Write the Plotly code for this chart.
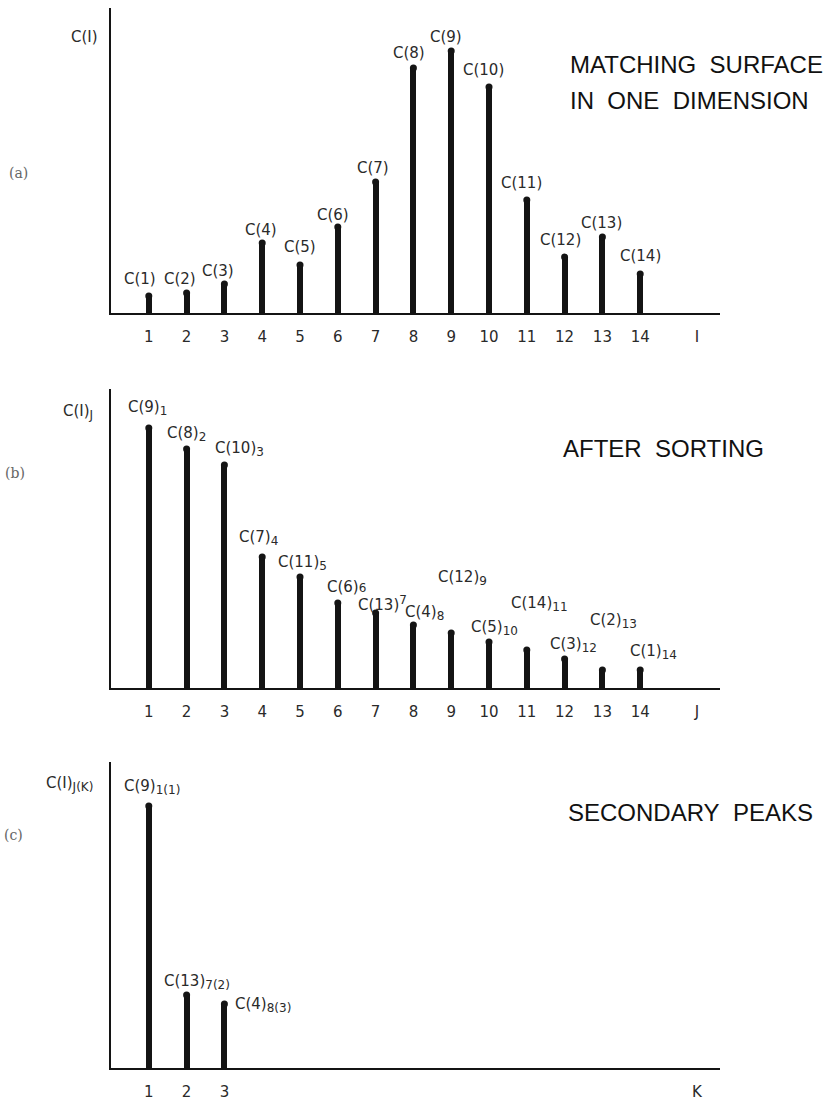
import plotly.graph_objects as go

W, H = 825, 1101

# ---------------- data ----------------
idx_a = list(range(1, 15))
val_a = [17, 20, 29, 70, 48, 86, 131, 245, 262, 226, 113, 56, 76, 39]
lab_a = ["C(1)", "C(2)", "C(3)", "C(4)", "C(5)", "C(6)", "C(7)", "C(8)", "C(9)",
         "C(10)", "C(11)", "C(12)", "C(13)", "C(14)"]

idx_b = list(range(1, 15))
val_b = [260, 239, 223, 131, 111, 85, 75, 63, 55, 46, 38, 29, 18, 18]
main_b = ["C(9)", "C(8)", "C(10)", "C(7)", "C(11)", "C(6)", "C(13)", "C(4)", "C(12)",
          "C(5)", "C(14)", "C(3)", "C(2)", "C(1)"]
sub_b = ["1", "2", "3", "4", "5", "6", "7", "8", "9", "10", "11", "12", "13", "14"]

idx_c = [1, 2, 3]
val_c = [262, 73, 64]
main_c = ["C(9)", "C(13)", "C(4)"]
sub_c = ["1(1)", "7(2)", "8(3)"]

ticks_a = ["1", "2", "3", "4", "5", "6", "7", "8", "9", "10", "11", "12", "13", "14", "I"]
ticks_b = ["1", "2", "3", "4", "5", "6", "7", "8", "9", "10", "11", "12", "13", "14", "J"]
ticks_c = ["1", "2", "3", "K"]
axis_letter_pos = 15.5

# ---------------- label styling / placement (px offsets from bar top) ----------------
SUB = "<sub><span style='font-size:12px'>{}</span></sub>"
SUP = "<sup><span style='font-size:12px'>{}</span></sup>"
INLINE = "<span style='font-size:12px'>{}</span>"
sub_style_b = ["sub"] * 14
sub_style_b[5] = "inline"   # C(6)6 is written almost inline
sub_style_b[6] = "sup"      # C(13)7 is written raised

off_a = [(-9, -17), (-7, -14), (-6, -13), (-1, -13), (0, -18), (-5, -12), (-3, -14),
         (-4, -15), (-5, -14), (-6, -17), (-5, -17), (-4, -17), (-1, -14), (0, -18)]
off_b = [(-23, -20), (-22, -15), (-11, -16), (-25, -19), (-24, -14), (-13, -16), (-20, -10),
         (-10, -12), (-15, -55), (-20, -14), (-18, -46), (-17, -14), (-14, -49), (-12, -18)]
off_c = [(-27, -19), (-25, -13), (9, 1)]

def fmt(main, sub, style="sub"):
    tpl = {"sub": SUB, "sup": SUP, "inline": INLINE}[style]
    return main + tpl.format(sub)

lab_b = [fmt(m, s, st) for m, s, st in zip(main_b, sub_b, sub_style_b)]
lab_c = [fmt(m, s) for m, s in zip(main_c, sub_c)]

INK = "#141414"
LBL_FONT = dict(family="DejaVu Sans", size=15, color="#2a2a2a")
TICK_FONT = dict(family="DejaVu Sans", size=15, color="#2a2a2a")
TITLE_FONT = dict(family="Liberation Sans, Arial", size=24, color="#111111")
PANEL_FONT = dict(family="DejaVu Serif", size=14, color="#666666")

X0_PX, X1_PX = 111, 720
PX_PER_UNIT = 37.8
x_range = [0, (X1_PX - X0_PX) / PX_PER_UNIT]

panels = [
    # (top px, baseline px)
    (8, 313),
    (389, 688),
    (762, 1068),
]

fig = go.Figure()

def add_panel(n, xs, ys):
    xa = "x" if n == 1 else f"x{n}"
    ya = "y" if n == 1 else f"y{n}"
    fig.add_trace(go.Bar(x=xs, y=ys, width=0.16, marker=dict(color=INK, line=dict(width=0)),
                         xaxis=xa, yaxis=ya, hoverinfo="skip"))
    fig.add_trace(go.Scatter(x=xs, y=ys, mode="markers",
                             marker=dict(color=INK, size=7, symbol="circle"),
                             xaxis=xa, yaxis=ya, hoverinfo="skip"))

add_panel(1, idx_a, val_a)
add_panel(2, idx_b, val_b)
add_panel(3, idx_c, val_c)

layout = dict(width=W, height=H, margin=dict(l=0, r=0, t=0, b=0),
              paper_bgcolor="white", plot_bgcolor="white", showlegend=False,
              bargap=0)

tick_sets = [(idx_a + [axis_letter_pos], ticks_a),
             (idx_b + [axis_letter_pos], ticks_b),
             (idx_c + [axis_letter_pos], ticks_c)]

for i, ((top, base), (tv, tt)) in enumerate(zip(panels, tick_sets), start=1):
    sx = "" if i == 1 else str(i)
    layout[f"xaxis{sx}"] = dict(
        domain=[X0_PX / W, X1_PX / W], range=x_range, anchor=f"y{sx}",
        showline=True, linecolor=INK, linewidth=2, showgrid=False, zeroline=False,
        tickvals=tv, ticktext=tt, ticks="outside", ticklen=9,
        tickcolor="rgba(0,0,0,0)", tickfont=TICK_FONT, fixedrange=True)
    layout[f"yaxis{sx}"] = dict(
        domain=[1 - base / H, 1 - top / H], range=[0, base - top], anchor=f"x{sx}",
        showline=True, linecolor=INK, linewidth=2, showgrid=False, zeroline=False,
        showticklabels=False, ticks="", fixedrange=True)

annotations = []

def data_labels(xref, yref, xs, ys, labels, offs, anchor):
    for x, y, t, (dx, dy) in zip(xs, ys, labels, offs):
        annotations.append(dict(x=x, y=y, xref=xref, yref=yref, text=t, showarrow=False,
                                xanchor=anchor, yanchor="middle", xshift=dx, yshift=-dy,
                                font=LBL_FONT))

data_labels("x", "y", idx_a, val_a, lab_a, off_a, "center")
data_labels("x2", "y2", idx_b, val_b, lab_b, off_b, "left")
data_labels("x3", "y3", idx_c, val_c, lab_c, off_c, "left")

def paper_text(px, py, text, font, xanchor="left"):
    annotations.append(dict(x=px / W, y=1 - py / H, xref="paper", yref="paper", text=text,
                            showarrow=False, xanchor=xanchor, yanchor="middle", font=font))

# axis titles
paper_text(69, 37, "C(I)", LBL_FONT)
paper_text(61, 412, "C(I)" + SUB.format("J"), LBL_FONT)
paper_text(44, 784, "C(I)" + SUB.format("J(K)"), LBL_FONT)

# panel markers
paper_text(18, 173, "(a)", PANEL_FONT, "center")
paper_text(15, 473, "(b)", PANEL_FONT, "center")
paper_text(13, 835, "(c)", PANEL_FONT, "center")

# titles
paper_text(568, 65, "MATCHING\u00a0 SURFACE", TITLE_FONT)
paper_text(568, 100, "IN\u00a0 ONE\u00a0 DIMENSION", TITLE_FONT)
paper_text(561, 448, "AFTER\u00a0 SORTING", TITLE_FONT)
paper_text(566, 812, "SECONDARY\u00a0 PEAKS", TITLE_FONT)

layout["annotations"] = annotations
fig.update_layout(**layout)

fig.write_html("out.html", config={"displayModeBar": False})
